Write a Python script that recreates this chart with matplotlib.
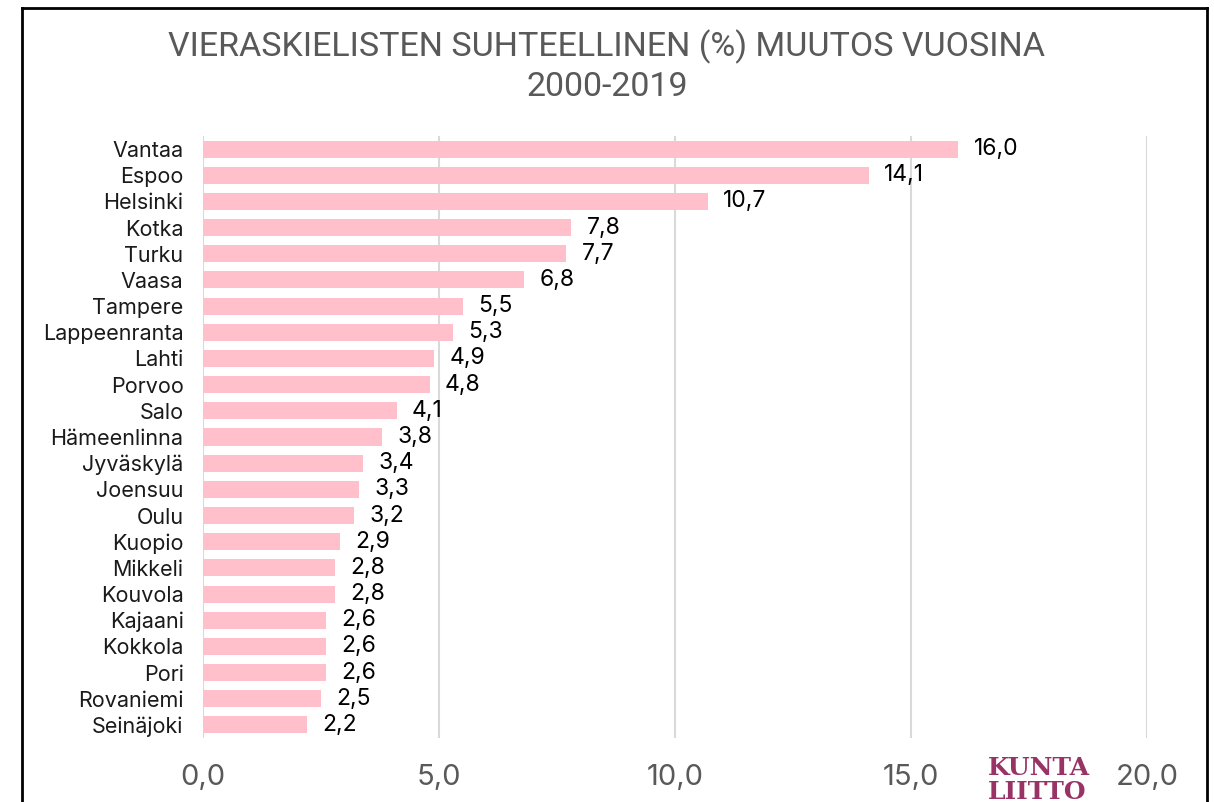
import matplotlib
matplotlib.use("Agg")
import matplotlib.pyplot as plt
from matplotlib.lines import Line2D

cities = ["Vantaa", "Espoo", "Helsinki", "Kotka", "Turku", "Vaasa", "Tampere",
          "Lappeenranta", "Lahti", "Porvoo", "Salo", "Hämeenlinna", "Jyväskylä",
          "Joensuu", "Oulu", "Kuopio", "Mikkeli", "Kouvola", "Kajaani", "Kokkola",
          "Pori", "Rovaniemi", "Seinäjoki"]
values = [16.0, 14.1, 10.7, 7.8, 7.7, 6.8, 5.5, 5.3, 4.9, 4.8, 4.1, 3.8, 3.4,
          3.3, 3.2, 2.9, 2.8, 2.8, 2.6, 2.6, 2.6, 2.5, 2.2]
xticks = [0, 5, 10, 15, 20]
title = "VIERASKIELISTEN SUHTEELLINEN (%) MUUTOS VUOSINA\n2000-2019"

fig = plt.figure(figsize=(12.14, 8.02), dpi=100)
ax = fig.add_axes([203/1214, 1-738/802, (1147-203)/1214, (738-136)/802])

ypos = list(range(len(cities)))
ax.barh(ypos, values, height=0.65, color="#FFC0CB", zorder=3)
ax.set_ylim(22.5, -0.5)
ax.set_xlim(0, 20)
ax.set_yticks(ypos)
ax.set_yticklabels(cities, fontsize=15.5, family="Inter", color="#1a1a1a")
ax.set_xticks(xticks)
ax.set_xticklabels([f"{t:.1f}".replace(".", ",") for t in xticks],
                   fontsize=21, family="Inter", color="#595959")
ax.tick_params(axis="y", length=0, pad=14)
ax.tick_params(axis="x", length=0, pad=19)
ax.grid(axis="x", color="#d9d9d9", linewidth=1.5, zorder=0)
for s in ax.spines.values():
    s.set_visible(False)

for y, v in zip(ypos, values):
    ax.annotate(f"{v:.1f}".replace(".", ","), (v, y), xytext=(11, 0),
                textcoords="offset points", va="center", ha="left",
                fontsize=16.5, family="Inter", color="#000000")

fig.text(0.5, 1-66/802, title, ha="center", va="center", fontsize=24.5,
         family="Roboto", color="#595959", linespacing=1.3)

# logo text
fig.text(988/1214, 1-780/802, "KUNTA\nLIITTO", fontsize=18, family="DejaVu Serif",
         fontweight="bold", color="#993366", ha="left", va="center",
         linespacing=0.95)

# border
bx0, bx1, by0 = 22/1214, 1207/1214, 1-8/802
for xs, ys in [([bx0, bx0], [0, by0]), ([bx0, bx1], [by0, by0]), ([bx1, bx1], [by0, 0])]:
    fig.add_artist(Line2D(xs, ys, color="black", linewidth=2, transform=fig.transFigure))

fig.savefig("out.png", dpi=100, facecolor="white")
